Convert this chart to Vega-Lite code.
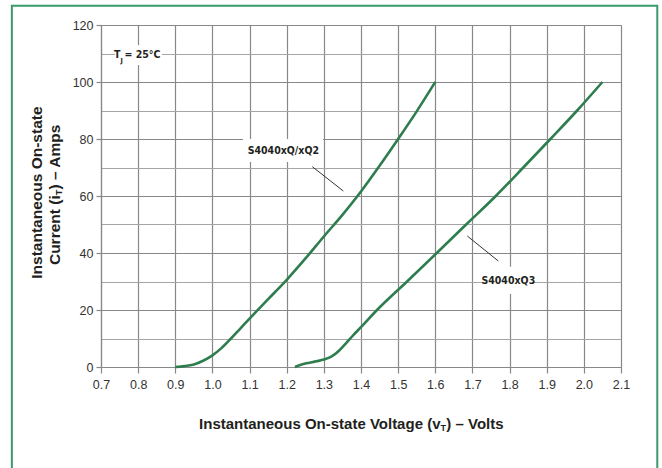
{
  "$schema": "https://vega.github.io/schema/vega-lite/v6.json",
  "width": 520,
  "height": 342,
  "autosize": {"type": "none"},
  "padding": {"left": 101, "top": 25, "right": 41, "bottom": 101},
  "background": "white",
  "config": {"view": {"stroke": null}},
  "resolve": {"axis": {"x": "independent", "y": "independent"}},
  "datasets": {
    "curves": [
      {"series": "S4040xQ/xQ2", "v": 0.9, "i": 0},
      {"series": "S4040xQ/xQ2", "v": 0.925, "i": 0.3},
      {"series": "S4040xQ/xQ2", "v": 0.95, "i": 0.9},
      {"series": "S4040xQ/xQ2", "v": 0.975, "i": 2.2},
      {"series": "S4040xQ/xQ2", "v": 1.0, "i": 4.1},
      {"series": "S4040xQ/xQ2", "v": 1.025, "i": 6.7},
      {"series": "S4040xQ/xQ2", "v": 1.05, "i": 10},
      {"series": "S4040xQ/xQ2", "v": 1.075, "i": 13.5},
      {"series": "S4040xQ/xQ2", "v": 1.1, "i": 17},
      {"series": "S4040xQ/xQ2", "v": 1.15, "i": 23.8},
      {"series": "S4040xQ/xQ2", "v": 1.2, "i": 30.6},
      {"series": "S4040xQ/xQ2", "v": 1.25, "i": 38},
      {"series": "S4040xQ/xQ2", "v": 1.3, "i": 45.8},
      {"series": "S4040xQ/xQ2", "v": 1.35, "i": 53.4},
      {"series": "S4040xQ/xQ2", "v": 1.4, "i": 61.6},
      {"series": "S4040xQ/xQ2", "v": 1.45, "i": 70.6},
      {"series": "S4040xQ/xQ2", "v": 1.5, "i": 80},
      {"series": "S4040xQ/xQ2", "v": 1.55, "i": 89.7},
      {"series": "S4040xQ/xQ2", "v": 1.6, "i": 100},
      {"series": "S4040xQ3", "v": 1.222, "i": 0},
      {"series": "S4040xQ3", "v": 1.25, "i": 1.2},
      {"series": "S4040xQ3", "v": 1.28, "i": 2.0},
      {"series": "S4040xQ3", "v": 1.3, "i": 2.6},
      {"series": "S4040xQ3", "v": 1.32, "i": 3.6},
      {"series": "S4040xQ3", "v": 1.34, "i": 5.6},
      {"series": "S4040xQ3", "v": 1.36, "i": 8.4},
      {"series": "S4040xQ3", "v": 1.38, "i": 11.3},
      {"series": "S4040xQ3", "v": 1.4, "i": 14.0},
      {"series": "S4040xQ3", "v": 1.443, "i": 20},
      {"series": "S4040xQ3", "v": 1.524, "i": 30},
      {"series": "S4040xQ3", "v": 1.604, "i": 40},
      {"series": "S4040xQ3", "v": 1.683, "i": 50},
      {"series": "S4040xQ3", "v": 1.763, "i": 60},
      {"series": "S4040xQ3", "v": 1.837, "i": 70},
      {"series": "S4040xQ3", "v": 1.91, "i": 80},
      {"series": "S4040xQ3", "v": 1.982, "i": 90},
      {"series": "S4040xQ3", "v": 2.05, "i": 100}
    ]
  },
  "layer": [
    {
      "data": {"name": "curves"},
      "mark": {"type": "line", "interpolate": "monotone", "strokeWidth": 2.6, "strokeCap": "butt"},
      "encoding": {
        "x": {
          "field": "v", "type": "quantitative",
          "scale": {"domain": [0.7, 2.1], "nice": false, "zero": false},
          "axis": {
            "values": [0.7, 0.8, 0.9, 1.0, 1.1, 1.2, 1.3, 1.4, 1.5, 1.6, 1.7, 1.8, 1.9, 2.0, 2.1],
            "format": ".1f", "title": null, "grid": true,
            "gridColor": "#888888", "gridWidth": 1.2, "gridOpacity": 1,
            "tickColor": "#888888", "tickSize": 6, "tickWidth": 1.2,
            "domainColor": "#888888", "domainWidth": 1.2,
            "labelFont": "Liberation Sans", "labelFontSize": 12.5, "labelColor": "#333333",
            "labelPadding": 5, "labelFlush": false, "labelOverlap": false
          }
        },
        "y": {
          "field": "i", "type": "quantitative",
          "scale": {"domain": [0, 120], "nice": false},
          "axis": {
            "values": [0, 10, 20, 30, 40, 50, 60, 70, 80, 90, 100, 110, 120],
            "labelExpr": "datum.value % 20 == 0 ? datum.label : ''",
            "title": null, "grid": true,
            "gridColor": {"condition": {"test": "datum.value % 20 != 0", "value": "#a5a5a5"}, "value": "#888888"},
            "gridWidth": 1.2, "gridOpacity": 1,
            "tickColor": {"condition": {"test": "datum.value % 20 != 0", "value": "transparent"}, "value": "#888888"},
            "tickSize": 5, "tickWidth": 1.2,
            "domainColor": "#888888", "domainWidth": 1.2,
            "labelFont": "Liberation Sans", "labelFontSize": 12.5, "labelColor": "#333333",
            "labelPadding": 3, "labelFlush": false, "labelOverlap": false
          }
        },
        "detail": {"field": "series", "type": "nominal"},
        "color": {"value": "#2e7d4e"}
      }
    },
    {
      "data": {"values": [{"frame": "outer"}]},
      "mark": {"type": "rect", "fill": "transparent", "stroke": "#3a9a6b", "strokeWidth": 2},
      "encoding": {
        "x": {"datum": 0.46, "type": "quantitative", "scale": {"domain": [0.7, 2.1], "nice": false, "zero": false}, "axis": null},
        "x2": {"datum": 2.1977},
        "y": {"datum": 126.74, "type": "quantitative", "scale": {"domain": [0, 120], "nice": false}, "axis": null},
        "y2": {"datum": -40}
      }
    },
    {
      "data": {"values": [
        {"x1": 1.0823, "x2": 1.2977, "y1": 80, "y2": 71.9},
        {"x1": 1.7293, "x2": 1.8596, "y1": 35.2, "y2": 25.6},
        {"x1": 0.7377, "x2": 0.8642, "y1": 113, "y2": 106}
      ]},
      "mark": {"type": "rect", "fill": "white", "stroke": null},
      "encoding": {
        "x": {"field": "x1", "type": "quantitative", "scale": {"domain": [0.7, 2.1], "nice": false, "zero": false}, "axis": null},
        "x2": {"field": "x2"},
        "y": {"field": "y1", "type": "quantitative", "scale": {"domain": [0, 120], "nice": false}, "axis": null},
        "y2": {"field": "y2"}
      }
    },
    {
      "data": {"values": [
        {"x1": 1.2689, "y1": 70.28, "x2": 1.3524, "y2": 61.75},
        {"x1": 1.6862, "y1": 45.96, "x2": 1.7697, "y2": 37.19}
      ]},
      "mark": {"type": "rule", "color": "#333333", "strokeWidth": 1},
      "encoding": {
        "x": {"field": "x1", "type": "quantitative", "scale": {"domain": [0.7, 2.1], "nice": false, "zero": false}, "axis": null},
        "x2": {"field": "x2"},
        "y": {"field": "y1", "type": "quantitative", "scale": {"domain": [0, 120], "nice": false}, "axis": null},
        "y2": {"field": "y2"}
      }
    },
    {
      "data": {"values": [
        {"label": "S4040xQ/xQ2", "v": 1.1908, "i": 75.8},
        {"label": "S4040xQ3", "v": 1.7966, "i": 30.3}
      ]},
      "mark": {"type": "text", "font": "DejaVu Sans Condensed, Liberation Sans, sans-serif", "fontWeight": "bold", "fontSize": 10.5, "color": "#231f20", "align": "center", "baseline": "middle"},
      "encoding": {
        "x": {"field": "v", "type": "quantitative", "scale": {"domain": [0.7, 2.1], "nice": false, "zero": false}, "axis": null},
        "y": {"field": "i", "type": "quantitative", "scale": {"domain": [0, 120], "nice": false}, "axis": null},
        "text": {"field": "label"}
      }
    },
    {
      "data": {"values": [
        {"label": "T", "v": 0.735, "i": 109.5},
        {"label": "= 25°C", "v": 0.7633, "i": 109.5}
      ]},
      "mark": {"type": "text", "font": "DejaVu Sans Condensed, Liberation Sans, sans-serif", "fontWeight": "bold", "fontSize": 10.5, "color": "#231f20", "align": "left", "baseline": "middle"},
      "encoding": {
        "x": {"field": "v", "type": "quantitative", "scale": {"domain": [0.7, 2.1], "nice": false, "zero": false}, "axis": null},
        "y": {"field": "i", "type": "quantitative", "scale": {"domain": [0, 120], "nice": false}, "axis": null},
        "text": {"field": "label"}
      }
    },
    {
      "data": {"values": [
        {"label": "J", "v": 0.7525, "i": 107.5}
      ]},
      "mark": {"type": "text", "font": "DejaVu Sans Condensed, Liberation Sans, sans-serif", "fontWeight": "bold", "fontSize": 7, "color": "#231f20", "align": "left", "baseline": "middle"},
      "encoding": {
        "x": {"field": "v", "type": "quantitative", "scale": {"domain": [0.7, 2.1], "nice": false, "zero": false}, "axis": null},
        "y": {"field": "i", "type": "quantitative", "scale": {"domain": [0, 120], "nice": false}, "axis": null},
        "text": {"field": "label"}
      }
    },
    {
      "data": {"values": [
        {"label": "Instantaneous On-state Voltage (v", "v": 1.614, "i": -20}
      ]},
      "mark": {"type": "text", "font": "Liberation Sans", "fontWeight": "bold", "fontSize": 15, "color": "#231f20", "align": "right", "baseline": "middle"},
      "encoding": {
        "x": {"field": "v", "type": "quantitative", "scale": {"domain": [0.7, 2.1], "nice": false, "zero": false}, "axis": null},
        "y": {"field": "i", "type": "quantitative", "scale": {"domain": [0, 120], "nice": false}, "axis": null},
        "text": {"field": "label"}
      }
    },
    {
      "data": {"values": [
        {"label": "T", "v": 1.6216, "i": -21.4}
      ]},
      "mark": {"type": "text", "font": "Liberation Sans", "fontWeight": "bold", "fontSize": 9, "color": "#231f20", "align": "center", "baseline": "middle"},
      "encoding": {
        "x": {"field": "v", "type": "quantitative", "scale": {"domain": [0.7, 2.1], "nice": false, "zero": false}, "axis": null},
        "y": {"field": "i", "type": "quantitative", "scale": {"domain": [0, 120], "nice": false}, "axis": null},
        "text": {"field": "label"}
      }
    },
    {
      "data": {"values": [
        {"label": ")  – Volts", "v": 1.6297, "i": -20}
      ]},
      "mark": {"type": "text", "font": "Liberation Sans", "fontWeight": "bold", "fontSize": 15, "color": "#231f20", "align": "left", "baseline": "middle"},
      "encoding": {
        "x": {"field": "v", "type": "quantitative", "scale": {"domain": [0.7, 2.1], "nice": false, "zero": false}, "axis": null},
        "y": {"field": "i", "type": "quantitative", "scale": {"domain": [0, 120], "nice": false}, "axis": null},
        "text": {"field": "label"}
      }
    },
    {
      "data": {"values": [
        {"label": "Instantaneous On-state", "v": 0.5269, "i": 61.2}
      ]},
      "mark": {"type": "text", "font": "Liberation Sans", "fontWeight": "bold", "fontSize": 15.5, "color": "#231f20", "align": "center", "baseline": "middle", "angle": 270},
      "encoding": {
        "x": {"field": "v", "type": "quantitative", "scale": {"domain": [0.7, 2.1], "nice": false, "zero": false}, "axis": null},
        "y": {"field": "i", "type": "quantitative", "scale": {"domain": [0, 120], "nice": false}, "axis": null},
        "text": {"field": "label"}
      }
    },
    {
      "data": {"values": [
        {"label": "Current (i", "v": 0.5762, "i": 60.25}
      ]},
      "mark": {"type": "text", "font": "Liberation Sans", "fontWeight": "bold", "fontSize": 15.5, "color": "#231f20", "align": "right", "baseline": "middle", "angle": 270},
      "encoding": {
        "x": {"field": "v", "type": "quantitative", "scale": {"domain": [0.7, 2.1], "nice": false, "zero": false}, "axis": null},
        "y": {"field": "i", "type": "quantitative", "scale": {"domain": [0, 120], "nice": false}, "axis": null},
        "text": {"field": "label"}
      }
    },
    {
      "data": {"values": [
        {"label": "T", "v": 0.5869, "i": 61.26}
      ]},
      "mark": {"type": "text", "font": "Liberation Sans", "fontWeight": "bold", "fontSize": 9, "color": "#231f20", "align": "center", "baseline": "middle", "angle": 270},
      "encoding": {
        "x": {"field": "v", "type": "quantitative", "scale": {"domain": [0.7, 2.1], "nice": false, "zero": false}, "axis": null},
        "y": {"field": "i", "type": "quantitative", "scale": {"domain": [0, 120], "nice": false}, "axis": null},
        "text": {"field": "label"}
      }
    },
    {
      "data": {"values": [
        {"label": ") – Amps", "v": 0.5762, "i": 62.25}
      ]},
      "mark": {"type": "text", "font": "Liberation Sans", "fontWeight": "bold", "fontSize": 15.5, "color": "#231f20", "align": "left", "baseline": "middle", "angle": 270},
      "encoding": {
        "x": {"field": "v", "type": "quantitative", "scale": {"domain": [0.7, 2.1], "nice": false, "zero": false}, "axis": null},
        "y": {"field": "i", "type": "quantitative", "scale": {"domain": [0, 120], "nice": false}, "axis": null},
        "text": {"field": "label"}
      }
    }
  ]
}
